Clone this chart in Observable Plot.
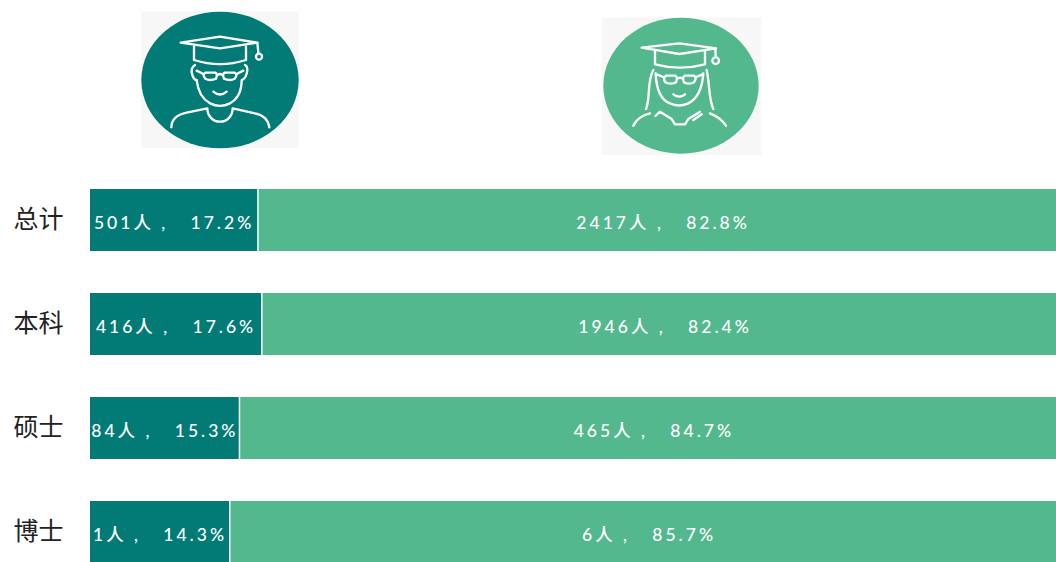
<!DOCTYPE html>
<html lang="zh">
<head>
<meta charset="utf-8">
<script src="https://cdn.jsdelivr.net/npm/d3@7"></script>
<script src="https://cdn.jsdelivr.net/npm/@observablehq/plot@0.6"></script>
<style>
html,body{margin:0;padding:0;background:#fff;overflow:hidden;width:1056px;height:562px}
#head{position:relative;width:1056px;height:160px}
#head svg{position:absolute;width:180px;height:160px}
#head path,#head circle.l{fill:none;stroke:#fff;stroke-width:7;stroke-linecap:round;stroke-linejoin:round}
.lbl{letter-spacing:3px;white-space:pre}
#chart svg{display:block;overflow:hidden}
</style>
</head>
<body>
<div id="head">
<svg style="left:130px;top:0" viewBox="0 0 540 480">
  <rect x="34" y="34" width="472" height="410" fill="#f7f7f7"/>
  <ellipse cx="270" cy="240" rx="236" ry="205" fill="#027b76"/>
  <path d="M152,128 L270,110 L382,128 L270,145 Z"/>
  <path d="M382,128 L385,158"/><circle class="l" cx="387" cy="170" r="9"/>
  <path d="M192,140 V180 Q270,205 348,180 V140"/>
  <path d="M195,195 Q180,205 187,225 Q192,240 200,240 Q205,290 240,310 Q270,325 300,310 Q335,290 335,240 Q350,235 352,210 Q352,198 345,195"/>
  <path d="M226,218 H256 Q264,222 258,236 Q240,244 226,236 Q216,224 226,218 Z"/>
  <path d="M284,218 H314 Q324,224 314,236 Q300,244 282,236 Q276,222 284,218 Z"/>
  <path d="M200,212 L220,222 M264,224 Q270,220 276,224 M340,212 L320,222"/>
  <path d="M250,275 Q270,292 290,275"/>
  <path d="M124,382 C125,350 150,342 170,338 L232,325 C232,350 250,365 270,365 C290,365 308,350 308,325 L375,340 C400,345 415,360 418,382"/>
</svg>
<svg style="left:590px;top:5px" viewBox="0 0 540 480">
  <rect x="36" y="38" width="478" height="412" fill="#f7f7f7"/>
  <ellipse cx="273" cy="242" rx="233" ry="204" fill="#53b88e"/>
  <path d="M155,128 L268,115 L378,130 L268,147 Z"/>
  <path d="M376,130 L377,155"/><circle class="l" cx="377" cy="167" r="10"/>
  <path d="M195,140 V178 Q270,198 345,178 V140"/>
  <path d="M197,205 Q200,280 240,295 Q265,308 295,295 Q335,275 340,205"/>
  <path d="M190,195 C170,230 182,280 168,312 M350,195 C360,240 355,280 370,312"/>
  <path d="M228,212 H256 Q264,218 258,232 Q240,240 226,232 Q218,220 228,212 Z"/>
  <path d="M284,212 H312 Q322,218 312,232 Q298,240 282,232 Q276,218 284,212 Z"/>
  <path d="M200,208 L220,216 M264,220 Q270,216 276,220 M338,208 L318,216"/>
  <path d="M250,268 Q268,282 285,268"/>
  <path d="M130,362 C140,340 160,330 180,325 M360,325 C385,335 400,350 408,362"/>
  <path d="M196,333 L210,320 L245,342 L255,358 H285 L295,342 L330,320"/>
  <path d="M310,345 L335,328"/>
</svg>
</div>
<div id="chart"></div>
<script>
const categories = ["总计", "本科", "硕士", "博士"];
const maleCounts = [501, 416, 84, 1];
const malePercents = [17.2, 17.6, 15.3, 14.3];
const femaleCounts = [2417, 1946, 465, 6];
const femalePercents = [82.8, 82.4, 84.7, 85.7];

const gap = "\u00a0,\u00a0\u00a0\u00a0";
const male = categories.map((c, i) => ({cat: c, x1: 0, x2: malePercents[i], label: `${maleCounts[i]}人${gap}${malePercents[i].toFixed(1)}%`}));
const female = categories.map((c, i) => ({cat: c, x1: malePercents[i], x2: 100, label: `${femaleCounts[i]}人${gap}${femalePercents[i].toFixed(1)}%`}));
const mid = d => (d.x1 + d.x2) / 2;
const fontFamily = "'Noto Sans CJK SC', sans-serif";
const textFont = "Lato, 'Noto Sans CJK SC', sans-serif";

const plot = Plot.plot({
  width: 1056,
  height: 402,
  marginTop: 0, marginBottom: 0, marginRight: 0, marginLeft: 0,
  style: {background: "#fff", fontFamily},
  x: {domain: [0, 100], range: [90, 1062], axis: null},
  y: {domain: categories, range: [7, 425], paddingInner: 0.4, paddingOuter: 0.2, axis: null},
  marks: [
    Plot.barX(male, {x1: "x1", x2: "x2", y: "cat", fill: "#027b76"}),
    Plot.barX(female, {x1: "x1", x2: "x2", y: "cat", fill: "#53b88e", insetLeft: 1.5}),
    Plot.axisY({anchor: "left", tickSize: 0, tickPadding: -63, fontSize: 25, fill: "#222", label: null, textAnchor: "end", dy: -1}),
    Plot.text(male, {x: mid, y: "cat", text: "label", fill: "#fff", fontSize: 17.5, fontFamily: textFont, fontWeight: 500, className: "lbl", dy: 3}),
    Plot.text(female, {x: mid, y: "cat", text: "label", fill: "#fff", fontSize: 17.5, fontFamily: textFont, fontWeight: 500, className: "lbl", dy: 3, dx: 3})
  ]
});
document.getElementById("chart").appendChild(plot);
</script>
</body>
</html>
